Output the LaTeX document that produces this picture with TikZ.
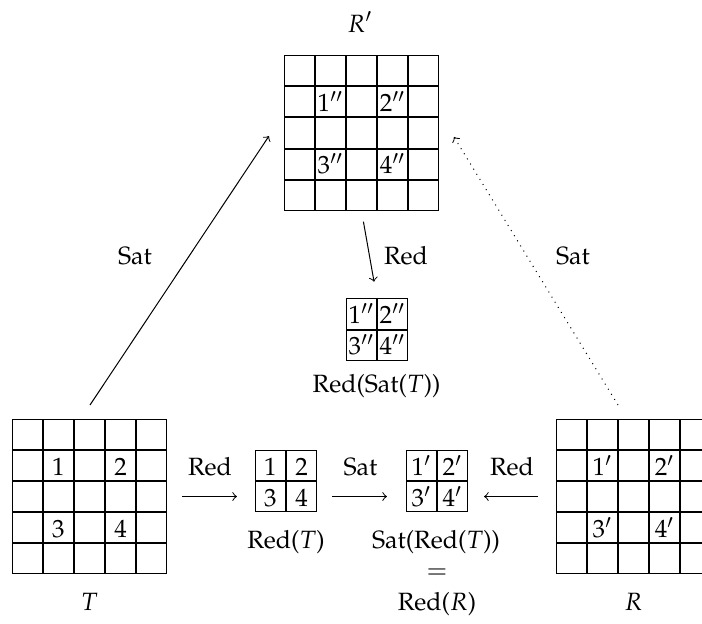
\documentclass[tikz,border=0pt]{standalone}
\usepackage[T1]{fontenc}
\usepackage{mathpazo}
\usetikzlibrary{matrix}
\begin{document}
\begin{tikzpicture}[x=0.4pt,y=-0.4pt,
  cellgrid/.style={matrix of math nodes, nodes in empty cells,
    inner sep=0pt, outer sep=0pt, column sep=0pt, row sep=0pt,
    nodes={draw, line width=0.4pt, minimum size=12.04pt, inner sep=0pt, outer sep=0pt,
      text height=7.9pt, text depth=0pt, anchor=center}},
  lbl/.style={anchor=base, inner sep=0pt, outer sep=0pt},
  arr/.style={->, line width=0.4pt}]
\useasboundingbox (0,0) rectangle (702,623);
\clip (0,0) rectangle (702,623);

% grids
\matrix[cellgrid] (Rp) at (361.5,133) {
  & & & & \\
  & 1'' & & 2'' & \\
  & & & & \\
  & 3'' & & 4'' & \\
  & & & & \\
};
\matrix[cellgrid] (T) at (89.5,496.5) {
  & & & & \\
  & 1 & & 2 & \\
  & & & & \\
  & 3 & & 4 & \\
  & & & & \\
};
\matrix[cellgrid] (R) at (633.5,496.5) {
  & & & & \\
  & 1' & & 2' & \\
  & & & & \\
  & 3' & & 4' & \\
  & & & & \\
};
\matrix[cellgrid] (RT) at (286,481) {
  1 & 2 \\
  3 & 4 \\
};
\matrix[cellgrid] (SRT) at (437,481) {
  1' & 2' \\
  3' & 4' \\
};
\matrix[cellgrid] (RST) at (377,329.5) {
  1'' & 2'' \\
  3'' & 4'' \\
};

% labels
\node[lbl] (lRp) at (360,32) {$R'$};
\node[lbl] (lSatL) at (135,264) {Sat};
\node[lbl] (lRedM) at (406,264) {Red};
\node[lbl] (lSatR) at (573,264) {Sat};
\node[lbl] (lRST) at (376.5,392) {Red(Sat($T$))};
\node[lbl] (lRed1) at (210,475) {Red};
\node[lbl] (lSat2) at (360.5,475) {Sat};
\node[lbl] (lRed3) at (512,475) {Red};
\node[lbl] (lRT) at (286,548) {Red($T$)};
\node[lbl] (lSRT) at (436,548) {Sat(Red($T$))};
\node[lbl] (leq) at (437,578) {$=$};
\node[lbl] (lRR) at (437,610) {Red($R$)};
\node[lbl] (lT) at (89.5,610) {$T$};
\node[lbl] (lR) at (633.5,610) {$R$};

% connectors
\coordinate (satLa) at (90,405);
\coordinate (satLb) at (269,136);
\coordinate (satRa) at (618,405);
\coordinate (satRb) at (454,137);
\draw[arr] (satLa) -- (satLb);
\draw[arr, dotted] (satRa) -- (satRb);
\draw[arr, shorten <=4.4pt, shorten >=6.8pt] (Rp.south) -- (RST.north);
\draw[arr, shorten <=6pt, shorten >=7.2pt] (T.east) -- (T.east -| RT.west);
\draw[arr, shorten <=6pt, shorten >=7.6pt] (T.east -| RT.east) -- (T.east -| SRT.west);
\draw[arr, shorten <=7.2pt, shorten >=6.4pt] (R.west) -- (R.west -| SRT.east);
\end{tikzpicture}
\end{document}
